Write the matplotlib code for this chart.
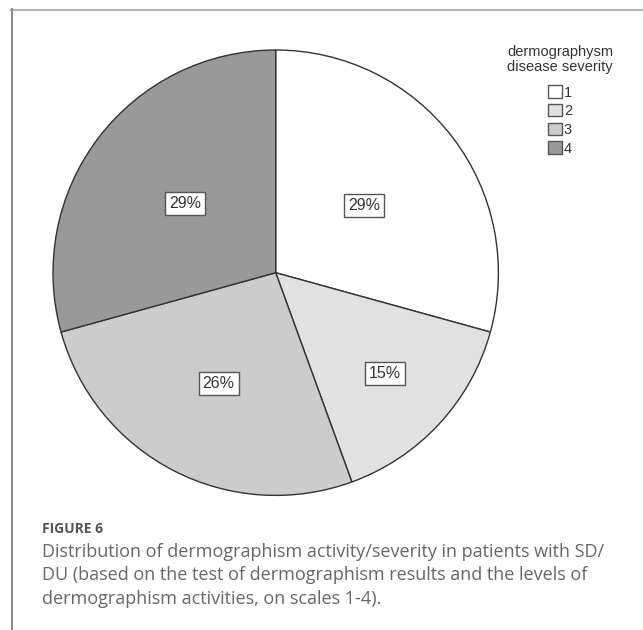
import numpy as np
import matplotlib
matplotlib.use("Agg")
import matplotlib.pyplot as plt
from matplotlib.lines import Line2D

# severity levels and share of patients (%)
levels = ["1", "2", "3", "4"]
shares = [29, 15, 26, 29]
colors = ["#ffffff", "#e1e1e1", "#cccccc", "#999999"]
label_dist = [0.50, 0.67, 0.56, 0.51]

legend_title = "dermographysm\ndisease severity"
fig_label = "FIGURE 6"
caption = ["Distribution of dermographism activity/severity in patients with SD/",
           "DU (based on the test of dermographism results and the levels of",
           "dermographism activities, on scales 1-4)."]

W, H = 643, 630
fig = plt.figure(figsize=(W/100, H/100), dpi=100)
plt.rcParams['font.family'] = ['Liberation Sans', 'DejaVu Sans']

# pie centre and radius in pixels
cx, cy, R = 275.7, 272.7, 222.7
ax = fig.add_axes([(cx-R)/W, 1-(cy+R)/H, 2*R/W, 2*R/H])
wedges, _ = ax.pie(shares, colors=colors, startangle=90, counterclock=False,
                   radius=1.0, wedgeprops=dict(edgecolor="#333333", linewidth=1.0))
ax.set_xlim(-1, 1)
ax.set_ylim(-1, 1)
ax.axis("off")

for w, s, d in zip(wedges, shares, label_dist):
    th = np.deg2rad((w.theta1 + w.theta2) / 2)
    ax.text(d*np.cos(th), d*np.sin(th), "%d%%" % s, ha="center", va="center",
            fontsize=11.5, color="#333333",
            bbox=dict(boxstyle="square,pad=0.25", facecolor="white",
                      edgecolor="#555555", linewidth=1.0))

leg = fig.legend(wedges, levels, title=legend_title, loc="upper center",
                 bbox_to_anchor=(560/W, 1-45/H), frameon=False, fontsize=10.5,
                 title_fontsize=10.5, handlelength=0.95, handleheight=0.95,
                 handletextpad=0.15, labelspacing=0.3, borderpad=0,
                 borderaxespad=0)
leg.get_title().set_color("#333333")
leg.get_title().set_multialignment("center")
leg.get_title().set_linespacing(1.1)
leg._legend_box.sep = 8
for t in leg.get_texts():
    t.set_color("#333333")
for p in leg.get_patches():
    p.set_edgecolor("#555555")

# panel frame
fig.add_artist(Line2D([11/W, 1], [1-9.5/H, 1-9.5/H], transform=fig.transFigure,
                      color="#b4b4b4", linewidth=1.6))
fig.add_artist(Line2D([11.5/W, 11.5/W], [0, 1-9/H], transform=fig.transFigure,
                      color="#8c8c8c", linewidth=1.4))

fig.text(42/W, 1-533/H, fig_label, fontsize=10, fontweight="bold",
         color="#555555", family=["Open Sans", "DejaVu Sans"], va="baseline")
for i, line in enumerate(caption):
    fig.text(42/W, 1-(557 + 23.5*i)/H, line, fontsize=13, color="#666666",
             family=["Open Sans", "DejaVu Sans"], va="baseline")

fig.savefig("out.png", dpi=100)
